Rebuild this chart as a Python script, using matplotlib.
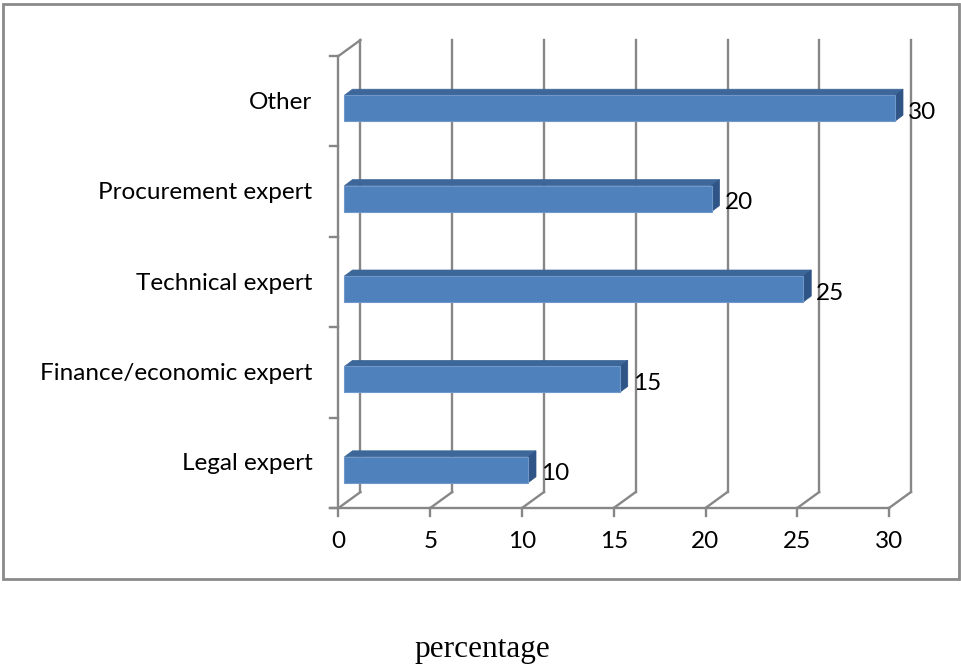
import matplotlib
matplotlib.use("Agg")
import matplotlib.pyplot as plt
from matplotlib.patches import Polygon, Rectangle

# data
categories = ["Legal expert", "Finance/economic expert", "Technical expert",
              "Procurement expert", "Other"]
values = [10, 15, 25, 20, 30]
xticks = [0, 5, 10, 15, 20, 25, 30]
xlabel = "percentage"

W, H, DPI = 962, 669, 100
fig = plt.figure(figsize=(W / DPI, H / DPI), dpi=DPI)

# front plane of the pseudo-3D box: x 0..30 -> px 338.5..889, y -0.5..4.5 -> px 508..56
left_px, right_px, bot_px, top_px = 338.5, 889, 508, 56
ax = fig.add_axes([left_px / W, (H - bot_px) / H,
                   (right_px - left_px) / W, (bot_px - top_px) / H])
ax.set_xlim(0, 30)
ax.set_ylim(-0.5, 4.5)
ax.axis("off")

ux = (right_px - left_px) / 30.0   # px per unit x
uy = (bot_px - top_px) / 5.0       # px per category

def px(dx, dy):
    # pixel offset (right, up) -> data units
    return dx / ux, dy / uy

grid = "#878787"
lw = 1.7
fs = 17.5
ddx, ddy = px(22, 16)

# back wall gridlines + floor diagonals
for t in xticks:
    ax.plot([t + ddx, t + ddx], [-0.5 + ddy, 4.5 + ddy], color=grid, lw=lw, clip_on=False)
    ax.plot([t, t + ddx], [-0.5, -0.5 + ddy], color=grid, lw=lw, clip_on=False)
    # tick below
    ax.plot([t, t], [-0.5, -0.5 - 8 / uy], color=grid, lw=lw, clip_on=False)
    ax.text(t, -0.5 - 34 / uy, str(t), ha="center", va="center",
            fontsize=fs, family="Lato", color="black")

# front left axis + top diagonal
ax.plot([0, 0], [-0.5, 4.5], color=grid, lw=lw, clip_on=False)
ax.plot([0, ddx], [4.5, 4.5 + ddy], color=grid, lw=lw, clip_on=False)
# bottom axis
ax.plot([-8 / ux, 30], [-0.5, -0.5], color=grid, lw=lw, clip_on=False)
# category ticks
for b in range(6):
    ax.plot([-8 / ux, 0], [b - 0.5, b - 0.5], color=grid, lw=lw, clip_on=False)

# bars
bx0, by_off = px(6, -7)
bh = 26 / uy
bdx, bdy = px(8, 6)
for i, (cat, v) in enumerate(zip(categories, values)):
    x0 = bx0
    x1 = bx0 + v
    yc = i + by_off
    y0, y1 = yc - bh / 2, yc + bh / 2
    front = Rectangle((x0, y0), x1 - x0, bh, facecolor="#4f81bd",
                      edgecolor="#6f97c9", lw=0.8, clip_on=False, zorder=3)
    top = Polygon([(x0, y1), (x1, y1), (x1 + bdx, y1 + bdy), (x0 + bdx, y1 + bdy)],
                  closed=True, facecolor="#3d6699", edgecolor="#3d6699", lw=0.5,
                  clip_on=False, zorder=3)
    side = Polygon([(x1, y0), (x1 + bdx, y0 + bdy), (x1 + bdx, y1 + bdy), (x1, y1)],
                   closed=True, facecolor="#2f5587", edgecolor="#2f5587", lw=0.5,
                   clip_on=False, zorder=3)
    ax.add_patch(top)
    ax.add_patch(side)
    ax.add_patch(front)
    ax.text(x1 + bdx + 5 / ux, yc - 4 / uy, str(v), ha="left", va="center",
            fontsize=fs, family="Lato", color="black", zorder=4)
    ax.text(-26 / ux, i - 1 / uy, cat, ha="right", va="center",
            fontsize=fs, family="Lato", color="black")

# outer frame
fig.patches.append(Rectangle((3 / W, (H - 579) / H), 956 / W, 575 / H,
                             transform=fig.transFigure, fill=False,
                             edgecolor="#8a8a8a", lw=2))

fig.text(482 / W, (H - 650) / H, xlabel, ha="center", va="center",
         fontsize=22.5, family="Liberation Serif", color="black")

fig.savefig("out.png", dpi=DPI)
